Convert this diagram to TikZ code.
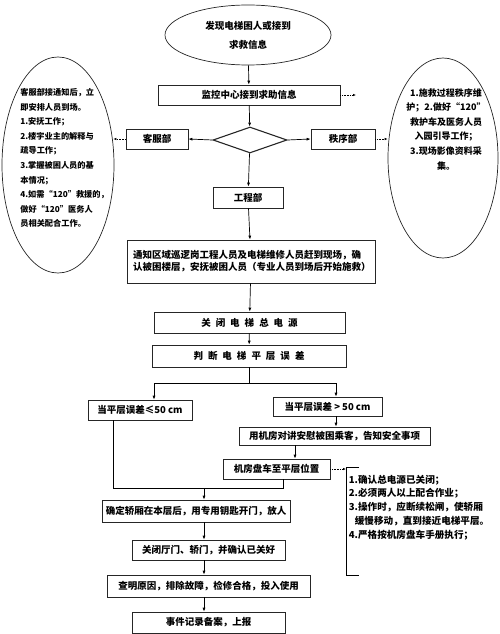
\documentclass[tikz,border=0pt]{standalone}
\usepackage{fontspec}
\setmainfont{Noto Sans CJK SC}
\usetikzlibrary{arrows.meta,shapes.geometric}
\tikzset{
  box/.style={draw=black!85, rectangle, line width=0.7pt, inner sep=0pt, align=center,
    font=\fontsize{9.5}{12}\selectfont\bfseries},
  spaced/.style={box, execute at begin node={\spaceskip=5pt plus 0pt\relax}},
  oval/.style={draw=black!85, ellipse, line width=0.7pt, inner sep=0pt, align=center,
    font=\fontsize{9.5}{19}\selectfont\bfseries},
  note/.style={inner sep=0pt, font=\fontsize{8.2}{14.6}\selectfont\bfseries},
  dotarrow/.style={densely dotted, line width=0.6pt, -{Latex[length=3pt,width=2.5pt]}}
}
\begin{document}
\begin{tikzpicture}[x=1pt,y=-1pt,line width=0.7pt,>={Latex[length=4pt,width=3pt]}]
  \useasboundingbox (0,0) rectangle (500,634);
  \draw
    (248,35) node[oval, minimum width=166pt, minimum height=60pt] (start){发现电梯困人或接到\\求救信息}
    (249,95) node[box, minimum width=182pt, minimum height=20pt] (monitor){监控中心接到求助信息}
    (250,140) node[diamond, draw=black!85, line width=1.1pt, inner sep=0pt,
      minimum width=74pt, minimum height=26pt] (split){}
    (157,139) node[box, minimum width=62pt, minimum height=20pt] (kefu){客服部}
    (343,139) node[box, minimum width=64pt, minimum height=20pt] (zhixu){秩序部}
    (248,197.5) node[box, minimum width=70pt, minimum height=21pt] (gongcheng){工程部}
    (251,261.5) node[box, minimum width=248pt, minimum height=43pt, text width=236pt, align=left] (notify)
      {通知区域巡逻岗工程人员及电梯维修人员赶到现场，确\\认被困楼层，安抚被困人员（专业人员到场后开始施救）}
    (249.5,322.5) node[spaced, minimum width=191pt, minimum height=21pt] (poweroff){关 闭 电 梯 总 电 源}
    (249,356) node[spaced, minimum width=194pt, minimum height=22pt] (judge){判 断 电 梯 平 层 误 差}
    (140,410) node[box, minimum width=104pt, minimum height=20pt] (le50){当平层误差≤50 cm}
    (327.5,406.5) node[box, minimum width=109pt, minimum height=19pt] (gt50){当平层误差 > 50 cm}
    (334.5,436) node[box, minimum width=191pt, minimum height=18pt] (talk){用机房对讲安慰被困乘客，告知安全事项}
    (276.5,469) node[box, minimum width=107pt, minimum height=20pt] (crank){机房盘车至平层位置}
    (196,511) node[box, minimum width=188pt, minimum height=22pt] (release){确定轿厢在本层后，用专用钥匙开门，放人}
    (208.5,550) node[box, minimum width=153pt, minimum height=20pt] (closedoor){关闭厅门、轿门，并确认已关好}
    (208.5,586) node[box, minimum width=203pt, minimum height=22pt] (repair){查明原因，排除故障，检修合格，投入使用}
    (208.5,622.5) node[box, minimum width=153pt, minimum height=21pt] (report){事件记录备案，上报};
  % side notes
  \node[oval, minimum width=112pt, minimum height=216pt] (lell) at (58,165) {};
  \node[note, anchor=north west, text width=80pt, align=left] (ltext) at (20,88)
    {客服部接通知后，立\\即安排人员到场。\\1.安抚工作；\\2.楼宇业主的解释与\\疏导工作；\\3.掌握被困人员的基\\本情况；\\4.如需“120”救援的，\\做好“120”医务人\\员相关配合工作。};
  \node[oval, minimum width=110pt, minimum height=200pt] (rell) at (443,158) {};
  \node[note, anchor=north, align=center, font=\fontsize{9}{14.6}\selectfont\bfseries] (rtext) at (446,88)
    {1.施救过程秩序维\\护；2.做好“120”\\救护车及医务人员\\入园引导工作；\\3.现场影像资料采\\集。};
  \coordinate (brtop) at (346,467);
  \coordinate (brbot) at (346,575);
  \draw (brtop) ++(13,0) -- (brtop) -- (brbot) -- ++(13,0);
  \node[note, anchor=north west, text width=145pt, align=left, font=\fontsize{9.6}{13.8}\selectfont\bfseries] (crankrules) at (348.5,474.5)
    {1.确认总电源已关闭；\\2.必须两人以上配合作业；\\3.操作时，应断续松闸，使轿厢\\\hspace*{6pt}缓慢移动，直到接近电梯平层。\\4.严格按机房盘车手册执行；};
  % helper points
  \coordinate (mfree) at (356,95);
  \coordinate (lsplit) at (154,383);
  \coordinate (rsplit) at (336,383);
  \coordinate (talkout) at (295,445);
  \coordinate (ldown) at (113,488);
  \coordinate (rup) at (283,488);
  \coordinate (merge) at (204,488);
  \begin{scope}[->]
    \draw (start) to (monitor);
    \draw (monitor) to (split);
    \draw (split.west) to (kefu.east);
    \draw (split.east) to (zhixu.west);
    \draw (split) to (gongcheng);
    \draw (gongcheng) to (notify);
    \draw (notify) to (poweroff);
    \draw (poweroff) to (judge);
    \draw (lsplit) to (lsplit |- le50.north);
    \draw (rsplit) to (rsplit |- gt50.north);
    \draw (rsplit |- gt50.south) to (rsplit |- talk.north);
    \draw (talkout) to (talkout |- crank.north);
    \draw (merge) to (merge |- release.north);
    \draw (merge |- release.south) to (merge |- closedoor.north);
    \draw (merge |- closedoor.south) to (merge |- repair.north);
    \draw (merge |- repair.south) to (merge |- report.north);
  \end{scope}
  \draw (judge.south) -- (judge.south |- lsplit) (lsplit) -- (rsplit);
  \draw (ldown |- le50.south) -- (ldown) -- (rup) -- (rup |- crank.south);
  \draw[dotarrow] (monitor.east) -- (mfree);
  \draw[dotarrow] (kefu.west) -- ([xshift=-1pt]kefu.west -| lell.east);
  \draw[dotarrow] (zhixu.east) -- (zhixu.east -| rell.west);
  \draw[dotarrow] (crank.east) -- (crank.east -| brtop);
\end{tikzpicture}
\end{document}
